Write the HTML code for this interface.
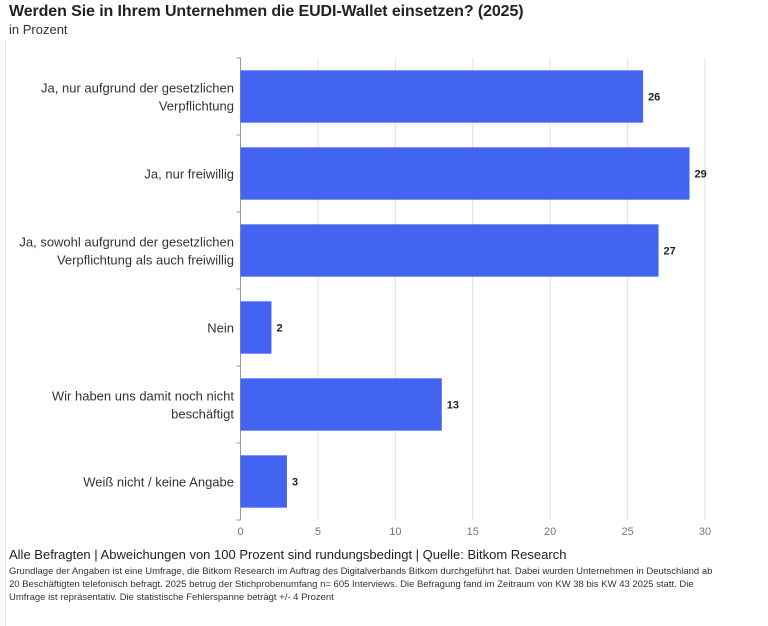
<!DOCTYPE html>
<html><head><meta charset="utf-8"><style>
body{margin:0;width:768px;height:626px;background:#fff;font-family:"Liberation Sans",sans-serif;color:#222;overflow:hidden;position:relative}
#frame{position:absolute;left:5px;top:40px;width:763px;height:586px;border-left:1px solid #e4e4e4}
#title{position:absolute;left:9px;top:3px;font-size:16px;font-weight:bold;color:#222;letter-spacing:-0.1px}
#sub{position:absolute;left:9px;top:22px;font-size:13px;color:#333}
#src{position:absolute;left:9px;top:547px;font-size:13px;color:#222}
#note{position:absolute;left:9px;top:565px;width:705px;font-size:9.5px;line-height:13px;color:#333}
</style></head><body>
<div id="frame"></div>
<div id="title">Werden Sie in Ihrem Unternehmen die EUDI-Wallet einsetzen? (2025)</div>
<div id="sub">in Prozent</div>
<svg id="chart" width="768" height="626" style="position:absolute;left:0;top:0"></svg>
<div id="src">Alle Befragten | Abweichungen von 100 Prozent sind rundungsbedingt | Quelle: Bitkom Research</div>
<div id="note">Grundlage der Angaben ist eine Umfrage, die Bitkom Research im Auftrag des Digitalverbands Bitkom durchgeführt hat. Dabei wurden Unternehmen in Deutschland ab 20 Beschäftigten telefonisch befragt. 2025 betrug der Stichprobenumfang n= 605 Interviews. Die Befragung fand im Zeitraum von KW 38 bis KW 43 2025 statt. Die Umfrage ist repräsentativ. Die statistische Fehlerspanne beträgt +/- 4 Prozent</div>
<script>
const categories=[["Ja, nur aufgrund der gesetzlichen","Verpflichtung"],["Ja, nur freiwillig"],["Ja, sowohl aufgrund der gesetzlichen","Verpflichtung als auch freiwillig"],["Nein"],["Wir haben uns damit noch nicht","beschäftigt"],["Weiß nicht / keine Angabe"]];
const values=[26,29,27,2,13,3];
const ticks=[0,5,10,15,20,25,30];
const NS="http://www.w3.org/2000/svg";
const svg=document.getElementById('chart');
const X0=240.5,X1=705,XMAX=30,PTOP=58,PBOT=520;
const band=(PBOT-PTOP)/categories.length;
const xs=v=>X0+(X1-X0)*v/XMAX;
const yb=i=>PTOP+band*i;
function mk(t,a){const e=document.createElementNS(NS,t);for(const k in a)e.setAttribute(k,a[k]);svg.appendChild(e);return e;}
ticks.forEach(t=>{
 if(t>0){const g=mk('line',{x1:xs(t),x2:xs(t),y1:PTOP,y2:PBOT,stroke:'#e2e2e2','stroke-width':1});
 
 }
 const l=mk('text',{x:xs(t),y:535,'text-anchor':'middle','font-size':11,fill:'#777'});l.textContent=t;
 
 
});
const ax=mk('line',{x1:X0,x2:X0,y1:PTOP,y2:PBOT,stroke:'#999','stroke-width':1});


for(let i=0;i<=categories.length;i++){const tk=mk('line',{x1:X0-4,x2:X0,y1:yb(i),y2:yb(i),stroke:'#999'});
 
 }
values.forEach((v,i)=>{
 const bh=band*0.68,y=yb(i)+(band-bh)/2;
 const r=mk('rect',{x:X0,y:y,width:xs(v)-X0,height:bh,fill:'#4264f0'});
 
 
 const t=mk('text',{x:xs(v)+5,y:y+bh/2+4,'font-size':11,'font-weight':'bold',fill:'#222'});t.textContent=v;
 
 
 const lines=categories[i],cy=yb(i)+band/2;
 lines.forEach((s,j)=>{
  const c=mk('text',{x:234,y:cy+5+(j-(lines.length-1)/2)*18,'text-anchor':'end','font-size':13,fill:'#333'});c.textContent=s;
  
  
 });
});
</script>
</body></html>
